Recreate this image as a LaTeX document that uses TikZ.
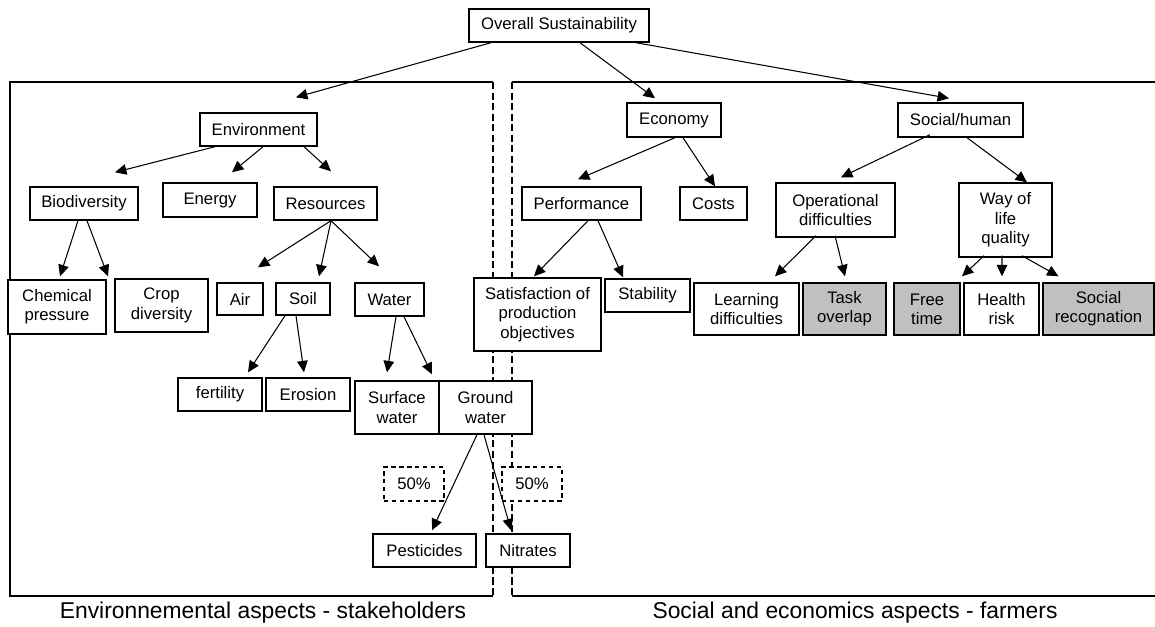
\documentclass[tikz,border=0pt]{standalone}
\usepackage{fontspec}
\setmainfont{Liberation Sans}
\usetikzlibrary{arrows.meta, calc}
\definecolor{boxgrey}{RGB}{192,192,192}

\begin{document}
\begin{tikzpicture}[x=0.02cm, y=-0.02cm,
    box/.style={rectangle, draw, fill=white, line width=0.8pt, inner sep=0pt, align=center, font=\fontsize{9.5}{11}\selectfont},
    greybox/.style={box, fill=boxgrey},
    pctbox/.style={box, dash pattern=on 2.5pt off 2pt},
    boxsize/.style 2 args={minimum width=#1*0.02cm, minimum height=#2*0.02cm},
    frame/.style={line width=0.8pt},
    split/.style={line width=0.8pt, dash pattern=on 4pt off 2pt},
    arrow/.style={line width=0.6pt, -{Triangle[length=6.5pt,width=6pt]}},
    caption/.style={font=\fontsize{13}{15}\selectfont}]
    \useasboundingbox (0,0) rectangle (1155,626);

    % the two panels
    \draw [frame] (493,82) -- (10,82) -- (10,596) -- (493,596);
    \draw [split] (493,82) -- (493,596);
    \draw [frame] (1155,82) -- (512,82);
    \draw [frame] (512,596) -- (1155,596);
    \draw [split] (512,82) -- (512,596);

    \node [box, boxsize={180}{33}] (overall) at (559,25.5) {Overall Sustainability};

    % environment side
    \node [box, boxsize={117}{33}] (env) at (258.5,129.5) {Environment};
    \node [box, boxsize={108}{33}] (bio) at (84,203.5) {Biodiversity};
    \node [box, boxsize={94}{34}] (energy) at (210,200) {Energy};
    \node [box, boxsize={103}{33}] (res) at (325.5,203.5) {Resources};
    \node [box, boxsize={98}{54}] (chem) at (57,307) {Chemical\\pressure};
    \node [box, boxsize={93}{53}] (crop) at (161.5,305.5) {Crop\\diversity};
    \node [box, boxsize={46}{32}] (air) at (240,299) {Air};
    \node [box, boxsize={54}{32}] (soil) at (303,299) {Soil};
    \node [box, boxsize={69}{33}] (water) at (389.5,299.5) {Water};
    \node [box, boxsize={84}{33}] (fert) at (220,394.5) {fertility};
    \node [box, boxsize={84}{33}] (eros) at (308,394.5) {Erosion};
    \node [box, boxsize={84}{53}] (surf) at (397,407.5) {Surface\\water};
    \node [box, boxsize={93}{53}] (ground) at (485.5,407.5) {Ground\\water};
    \node [pctbox, boxsize={60}{34}] (pctl) at (414,484) {50\%};
    \node [pctbox, boxsize={60}{34}] (pctr) at (532,484) {50\%};
    \node [box, boxsize={103}{33}] (pest) at (424.5,550.5) {Pesticides};
    \node [box, boxsize={84}{33}] (nitr) at (528,550.5) {Nitrates};

    % economy and social side
    \node [box, boxsize={94}{34}] (econ) at (674,120) {Economy};
    \node [box, boxsize={125}{34}] (social) at (960.5,120) {Social/human};
    \node [box, boxsize={119}{33}] (perf) at (581.5,203.5) {Performance};
    \node [box, boxsize={67}{33}] (costs) at (713.5,203.5) {Costs};
    \node [box, boxsize={127}{73}] (satis) at (537.5,314.5) {Satisfaction of\\production\\objectives};
    \node [box, boxsize={85}{33}] (stab) at (647.5,295.5) {Stability};
    \node [box, boxsize={119}{54}] (oper) at (835.5,210) {Operational\\difficulties};
    \node [box, boxsize={93}{74}] (way) at (1005.5,220) {Way of\\life\\quality};
    \node [box, boxsize={105}{52}] (learn) at (746.5,309) {Learning\\difficulties};
    \node [greybox, boxsize={83}{52}] (task) at (844.5,309) {Task\\overlap};
    \node [greybox, boxsize={66}{52}] (free) at (927,309) {Free\\time};
    \node [box, boxsize={75}{52}] (health) at (1001.5,309) {Health\\risk};
    \node [greybox, boxsize={111}{52}] (recog) at (1098.5,309) {Social\\recognation};

    \node [caption] (envcap) at (263,613) {Environnemental aspects - stakeholders};
    \node [caption] (soccap) at (855,613) {Social and economics aspects - farmers};

    \draw [arrow] ($(overall.south)+(-68,0)$) -- ($(env.north)+(37.5,-15)$);
    \draw [arrow] ($(overall.south)+(21,0)$) -- ($(econ.north)+(-19,-4)$);
    \draw [arrow] ($(overall.south)+(77,0)$) -- ($(social.north)+(-11.5,-4)$);

    \draw [arrow] ($(env.south)+(-43.5,0)$) -- ($(bio.north)+(31,-14)$);
    \draw [arrow] ($(env.south)+(4.5,0)$) -- ($(energy.north)+(22,-10)$);
    \draw [arrow] ($(env.south)+(45.5,0)$) -- ($(res.north)+(5.5,-15)$);
    \draw [arrow] ($(bio.south)+(-6,0)$) -- ($(chem.north)+(3,-3)$);
    \draw [arrow] ($(bio.south)+(3,0)$) -- ($(crop.north)+(-53.5,-2)$);
    \draw [arrow] ($(res.south)+(5.5,0)$) -- ($(air.north)+(18,-15)$);
    \draw [arrow] ($(res.south)+(5.5,0)$) -- ($(soil.north)+(16,-6)$);
    \draw [arrow] ($(res.south)+(5.5,0)$) -- ($(water.north)+(-10.5,-16)$);
    \draw [arrow] ($(soil.south)+(-18,0)$) -- ($(fert.north)+(28,-5)$);
    \draw [arrow] ($(soil.south)+(-7,0)$) -- ($(eros.north)+(-4,-5)$);
    \draw [arrow] ($(water.south)+(6.5,0)$) -- ($(surf.north)+(-10,-8)$);
    \draw [arrow] ($(water.south)+(14.5,0)$) -- ($(ground.north)+(-53.5,-6)$);
    \draw [arrow] ($(ground.south)+(-8.5,0)$) -- ($(pest.north)+(7.5,-3)$);
    \draw [arrow] ($(ground.south)+(-1.5,0)$) -- ($(nitr.north)+(-17,-3)$);

    \draw [arrow] ($(econ.south)+(1,0)$) -- ($(perf.north)+(-3.5,-7)$);
    \draw [arrow] ($(econ.south)+(9,0)$) -- ($(costs.north)+(1.5,0)$);
    \draw [arrow] ($(perf.south)+(6.5,0)$) -- ($(satis.north)+(-3.5,-1)$);
    \draw [arrow] ($(perf.south)+(16.5,0)$) -- ($(stab.north)+(-24.5,-1)$);
    \draw [arrow] ($(social.south)+(-30.5,-3)$) -- ($(oper.north)+(5.5,-5)$);
    \draw [arrow] ($(social.south)+(6.5,0)$) -- ($(way.north)+(21.5,0)$);
    \draw [arrow] ($(oper.south)+(-19.5,-2)$) -- ($(learn.north)+(28.5,-6)$);
    \draw [arrow] ($(oper.south)+(-0.5,-2)$) -- ($(task.north)+(0.5,-6)$);
    \draw [arrow] ($(way.south)+(-21.5,-2)$) -- ($(free.north)+(35,-6)$);
    \draw [arrow] ($(way.south)+(-3.5,-2)$) -- ($(health.north)+(0.5,-6)$);
    \draw [arrow] ($(way.south)+(16.5,-2)$) -- ($(recog.north)+(-40,-6)$);
\end{tikzpicture}
\end{document}
